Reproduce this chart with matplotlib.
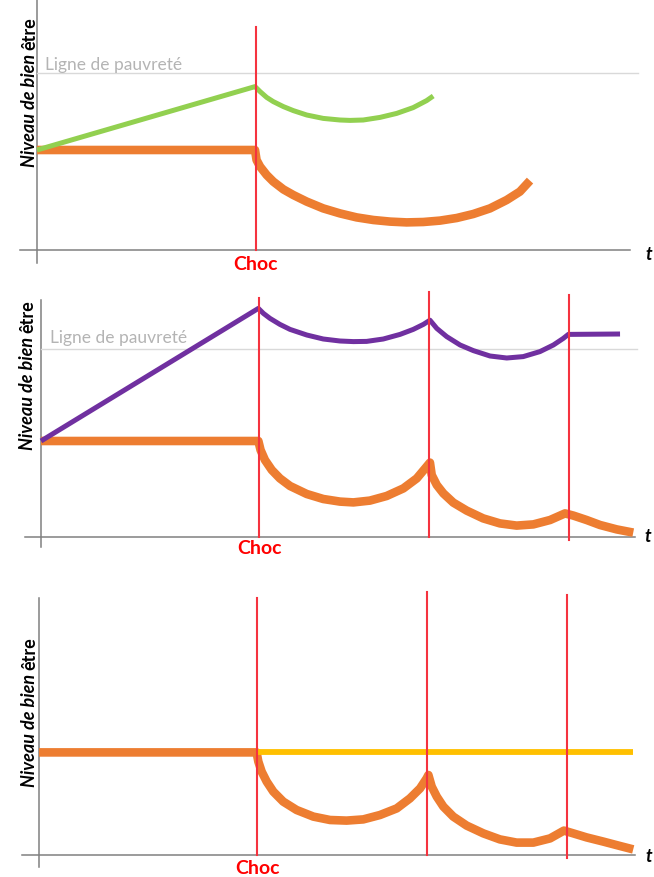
import matplotlib
matplotlib.use('Agg')
import matplotlib.pyplot as plt

plt.rcParams['font.family'] = ['Lato', 'DejaVu Sans']

W, H = 654, 877
SX, SY = 22.0, 20.0  # px per unit (time / niveau)

# ---- panel 1 ----
p1_shocks = [9.95]
p1_poverty = 8.85
p1_green_t = [0, 9.91, 10.14, 10.44, 10.74, 11.2, 11.65, 12.26, 13.01, 13.77, 14.23,
              14.83, 15.59, 16.35, 17.1, 17.71, 18.01]
p1_green_v = [5.0, 8.17, 7.92, 7.63, 7.42, 7.17, 6.97, 6.75, 6.58, 6.5, 6.48,
              6.5, 6.63, 6.83, 7.12, 7.47, 7.7]
p1_orange_t = [0, 9.91, 9.98, 10.14, 10.44, 10.74, 11.2, 11.65, 12.26, 13.01, 13.77,
               14.53, 15.29, 16.05, 16.8, 17.56, 18.32, 19.08, 19.83, 20.59, 21.35,
               21.95, 22.41]
p1_orange_v = [5.0, 5.0, 4.5, 4.17, 3.75, 3.42, 3.03, 2.75, 2.42, 2.08, 1.83,
               1.63, 1.5, 1.42, 1.38, 1.4, 1.47, 1.6, 1.8, 2.08, 2.5,
               2.92, 3.47]

# ---- panel 2 ----
p2_shocks = [9.9, 17.65, 24.0]
p2_poverty = 9.4
p2_purple_t = [0, 9.88, 10.11, 10.41, 10.86, 11.32, 12.08, 12.83, 13.59, 14.2, 14.8,
               15.56, 16.32, 16.92, 17.38, 17.68,
               17.99, 18.44, 19.05, 19.65, 20.41, 21.17, 21.92, 22.68, 23.29, 23.74,
               23.97, 26.32]
p2_purple_v = [4.8, 11.43, 11.18, 10.93, 10.63, 10.38, 10.1, 9.9, 9.8, 9.77, 9.78,
               9.9, 10.13, 10.38, 10.63, 10.84,
               10.43, 10.02, 9.6, 9.32, 9.05, 8.95, 9.02, 9.27, 9.6, 9.93,
               10.13, 10.15]
p2_orange_t = [0, 9.88, 9.98, 10.18, 10.49, 10.86, 11.32, 12.08, 12.83, 13.59, 14.2,
               14.95, 15.71, 16.47, 17.08, 17.53, 17.68,
               17.76, 17.99, 18.29, 18.74, 19.35, 20.1, 20.86, 21.62, 22.38, 23.14,
               23.82, 24.2, 24.8, 25.41, 26.17, 26.92]
p2_orange_v = [4.8, 4.8, 4.35, 3.85, 3.35, 2.93, 2.55, 2.15, 1.9, 1.77, 1.73,
               1.82, 2.05, 2.43, 2.93, 3.52, 3.72,
               3.1, 2.6, 2.18, 1.72, 1.32, 0.93, 0.68, 0.57, 0.63, 0.85,
               1.18, 1.07, 0.85, 0.6, 0.38, 0.22]

# ---- panel 3 ----
p3_shocks = [9.9, 17.65, 24.0]
p3_yellow_t = [9.9, 27.0]
p3_yellow_v = [5.13, 5.13]
p3_orange_t = [0, 9.89, 9.97, 10.12, 10.35, 10.65, 11.1, 11.71, 12.47, 13.23, 13.98,
               14.74, 15.5, 16.26, 16.86, 17.32, 17.62, 17.7,
               17.85, 18.08, 18.38, 18.83, 19.44, 20.2, 20.95, 21.71, 22.47, 23.23,
               23.86, 24.29, 24.89, 25.65, 26.41, 27.01]
p3_orange_v = [5.13, 5.13, 4.67, 4.17, 3.67, 3.17, 2.67, 2.25, 1.92, 1.75, 1.72,
               1.78, 2.0, 2.33, 2.83, 3.33, 3.83, 4.0,
               3.42, 2.92, 2.42, 1.92, 1.47, 1.08, 0.78, 0.62, 0.62, 0.83,
               1.22, 1.08, 0.88, 0.67, 0.45, 0.28]

ORANGE = '#ed7d31'
GREEN = '#92d050'
PURPLE = '#7030a0'
YELLOW = '#ffc000'
RED = '#f5333f'
AXIS = '#808080'
POV = '#d9d9d9'

fig = plt.figure(figsize=(W / 100, H / 100), dpi=100)


def make_axes(top, bottom, ox, oy):
    ax = fig.add_axes([0, 1 - bottom / H, 1, (bottom - top) / H])
    ax.set_xlim(-ox / SX, (W - ox) / SX)
    ax.set_ylim((oy - bottom) / SY, (oy - top) / SY)
    ax.axis('off')
    return ax


def ylabel(ax, t, v):
    t1 = ax.text(t, v, 'Niveau de bien', rotation=90, ha='center', va='bottom',
                 fontsize=13, fontweight='bold', fontstyle='italic')
    ax.annotate('être', xy=(0.5, 1), xycoords=t1, xytext=(0, 3),
                textcoords='offset points', rotation=90, ha='center', va='bottom',
                fontsize=13, fontweight='bold')


def axes_lines(ax, xr, yr):
    ax.plot(xr, [0, 0], color=AXIS, lw=1.1, zorder=1)
    ax.plot([0, 0], yr, color=AXIS, lw=1.1, zorder=1)


def shock_lines(ax, shocks, tops, bottoms):
    for s, a, b in zip(shocks, tops, bottoms):
        ax.plot([s, s], [b, a], color=RED, lw=1.5, zorder=4)


def curve(ax, t, v, color, lw, z):
    ax.plot(t, v, color=color, lw=lw, solid_capstyle='butt',
            solid_joinstyle='round', zorder=z)


def choc(ax, t, v):
    ax.text(t, v, 'Choc', color='red', fontsize=14, fontweight='bold',
            ha='center', va='center')


def tlabel(ax, t, v):
    ax.text(t, v, 't', fontsize=13, fontweight='bold', fontstyle='italic',
            ha='center', va='center')


# panel 1
ax1 = make_axes(0, 280, 37, 250)
axes_lines(ax1, [-0.77, 26.95], [-0.65, 12.5])
ax1.plot([0, 27.3], [p1_poverty, p1_poverty], color=POV, lw=1.0, zorder=1)
ax1.text(0.36, 9.0, 'Ligne de pauvreté', color='#b4b4b4', fontsize=12.5, va='baseline')
curve(ax1, p1_orange_t, p1_orange_v, ORANGE, 6.2, 2)
curve(ax1, p1_green_t, p1_green_v, GREEN, 3.6, 3)
shock_lines(ax1, p1_shocks, [11.15], [0])
choc(ax1, 9.95, -0.75)
tlabel(ax1, 27.8, -0.25)
ylabel(ax1, -0.32, 4.15)

# panel 2
ax2 = make_axes(285, 565, 41, 537)
axes_lines(ax2, [-0.73, 27.0], [-0.5, 11.85])
ax2.plot([0, 27.1], [p2_poverty, p2_poverty], color=POV, lw=1.0, zorder=1)
ax2.text(0.4, 9.7, 'Ligne de pauvreté', color='#b4b4b4', fontsize=12.5, va='baseline')
curve(ax2, p2_orange_t, p2_orange_v, ORANGE, 6.2, 2)
curve(ax2, p2_purple_t, p2_purple_v, PURPLE, 3.6, 3)
shock_lines(ax2, p2_shocks, [11.95, 12.25, 12.1], [0, 0, -0.15])
choc(ax2, 9.95, -0.55)
tlabel(ax2, 27.6, 0)
ylabel(ax2, -0.6, 4.35)

# panel 3
ax3 = make_axes(580, 877, 39, 855)
axes_lines(ax3, [-0.77, 27.1], [-0.6, 12.85])
curve(ax3, p3_orange_t, p3_orange_v, ORANGE, 6.2, 2)
curve(ax3, p3_yellow_t, p3_yellow_v, YELLOW, 4.2, 3)
shock_lines(ax3, p3_shocks, [12.85, 13.15, 13.0], [0, 0, -0.15])
choc(ax3, 9.95, -0.65)
tlabel(ax3, 27.7, -0.1)
ylabel(ax3, -0.41, 3.4)

fig.savefig('out.png', dpi=100)
